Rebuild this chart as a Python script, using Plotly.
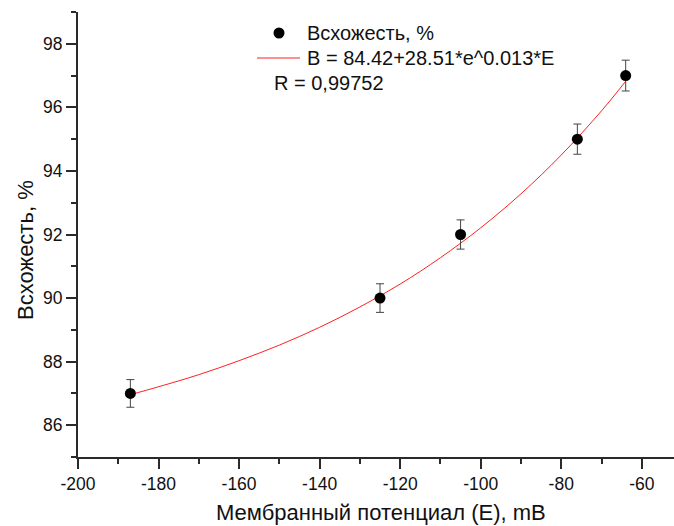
import plotly.graph_objects as go

# Measured data
potential = [-187, -125, -105, -76, -64]
germination = [87, 90, 92, 95, 97]
errors = [0.435, 0.45, 0.46, 0.475, 0.485]

# Fitted curve
fit_x = [-187, -180, -170, -160, -150, -140, -130, -120, -110, -100, -90, -80, -70, -64]
fit_y = [86.96, 87.21, 87.59, 88.03, 88.52, 89.08, 89.72, 90.44, 91.27, 92.21, 93.28, 94.50, 95.89, 96.82]

x_ticks = [-200, -180, -160, -140, -120, -100, -80, -60]
y_ticks = [86, 88, 90, 92, 94, 96, 98]

FONT = "Liberation Sans, Arial, sans-serif"
AX = "#2a2a2a"

W, H = 674, 526
L, R, T, B = 78, 0, 12, 69
PW, PH = W - L - R, H - T - B

def px(x):
    return (x - L) / PW

def py(y):
    return (H - B - y) / PH

fig = go.Figure()
fig.add_trace(go.Scatter(x=fit_x, y=fit_y, mode="lines", line=dict(color="#ff2020", width=1, shape="spline"),
                         showlegend=False, hoverinfo="skip"))
fig.add_trace(go.Scatter(x=potential, y=germination, mode="markers",
                         marker=dict(color="black", size=11),
                         error_y=dict(type="data", array=errors, visible=True, color="#444444", thickness=1, width=4),
                         showlegend=False))

axis_common = dict(showline=True, linecolor=AX, linewidth=2, ticks="outside", ticklen=10, tickwidth=1.5,
                   tickcolor=AX, showgrid=False, zeroline=False,
                   tickfont=dict(family=FONT, size=17.5, color="#111111"))

fig.update_xaxes(range=[-200, -52], tickvals=x_ticks, ticktext=[str(v) for v in x_ticks],
                 minor=dict(dtick=10, tick0=-200, ticks="outside", ticklen=5, tickwidth=1.5, tickcolor=AX),
                 **axis_common)
fig.update_yaxes(range=[85, 99], tickvals=y_ticks, ticktext=[str(v) for v in y_ticks],
                 minor=dict(dtick=1, tick0=85, ticks="outside", ticklen=5, tickwidth=1.5, tickcolor=AX),
                 **axis_common)

ann = []
ann.append(dict(x=px(381), y=py(512), xref="paper", yref="paper", text="Мембранный потенциал (E), mB",
                showarrow=False, font=dict(family=FONT, size=22, color="#111111"), xanchor="center", yanchor="middle"))
ann.append(dict(x=px(25), y=py(250), xref="paper", yref="paper", text="Всхожесть, %", textangle=-90,
                showarrow=False, font=dict(family=FONT, size=22, color="#111111"), xanchor="center", yanchor="middle"))
leg_font = dict(family=FONT, size=20, color="#111111")
ann.append(dict(x=px(305), y=py(33), xref="paper", yref="paper", text="Всхожесть, %", showarrow=False,
                font=leg_font, xanchor="left", yanchor="middle"))
ann.append(dict(x=px(305), y=py(58), xref="paper", yref="paper", text="В = 84.42+28.51*e^0.013*E", showarrow=False,
                font=leg_font, xanchor="left", yanchor="middle"))
ann.append(dict(x=px(272), y=py(83), xref="paper", yref="paper", text="R = 0,99752", showarrow=False,
                font=leg_font, xanchor="left", yanchor="middle"))

shapes = [
    dict(type="line", xref="paper", yref="paper", x0=px(257), x1=px(300), y0=py(58), y1=py(58),
         line=dict(color="#ff2020", width=1)),
    dict(type="circle", xref="paper", yref="paper", x0=px(273.5), x1=px(284.5), y0=py(27.5), y1=py(38.5),
         fillcolor="black", line=dict(color="black", width=0)),
]

fig.update_layout(width=W, height=H, margin=dict(l=L, r=R, t=T, b=B),
                  plot_bgcolor="white", paper_bgcolor="white",
                  annotations=ann, shapes=shapes, showlegend=False)

fig.write_html("out.html")
